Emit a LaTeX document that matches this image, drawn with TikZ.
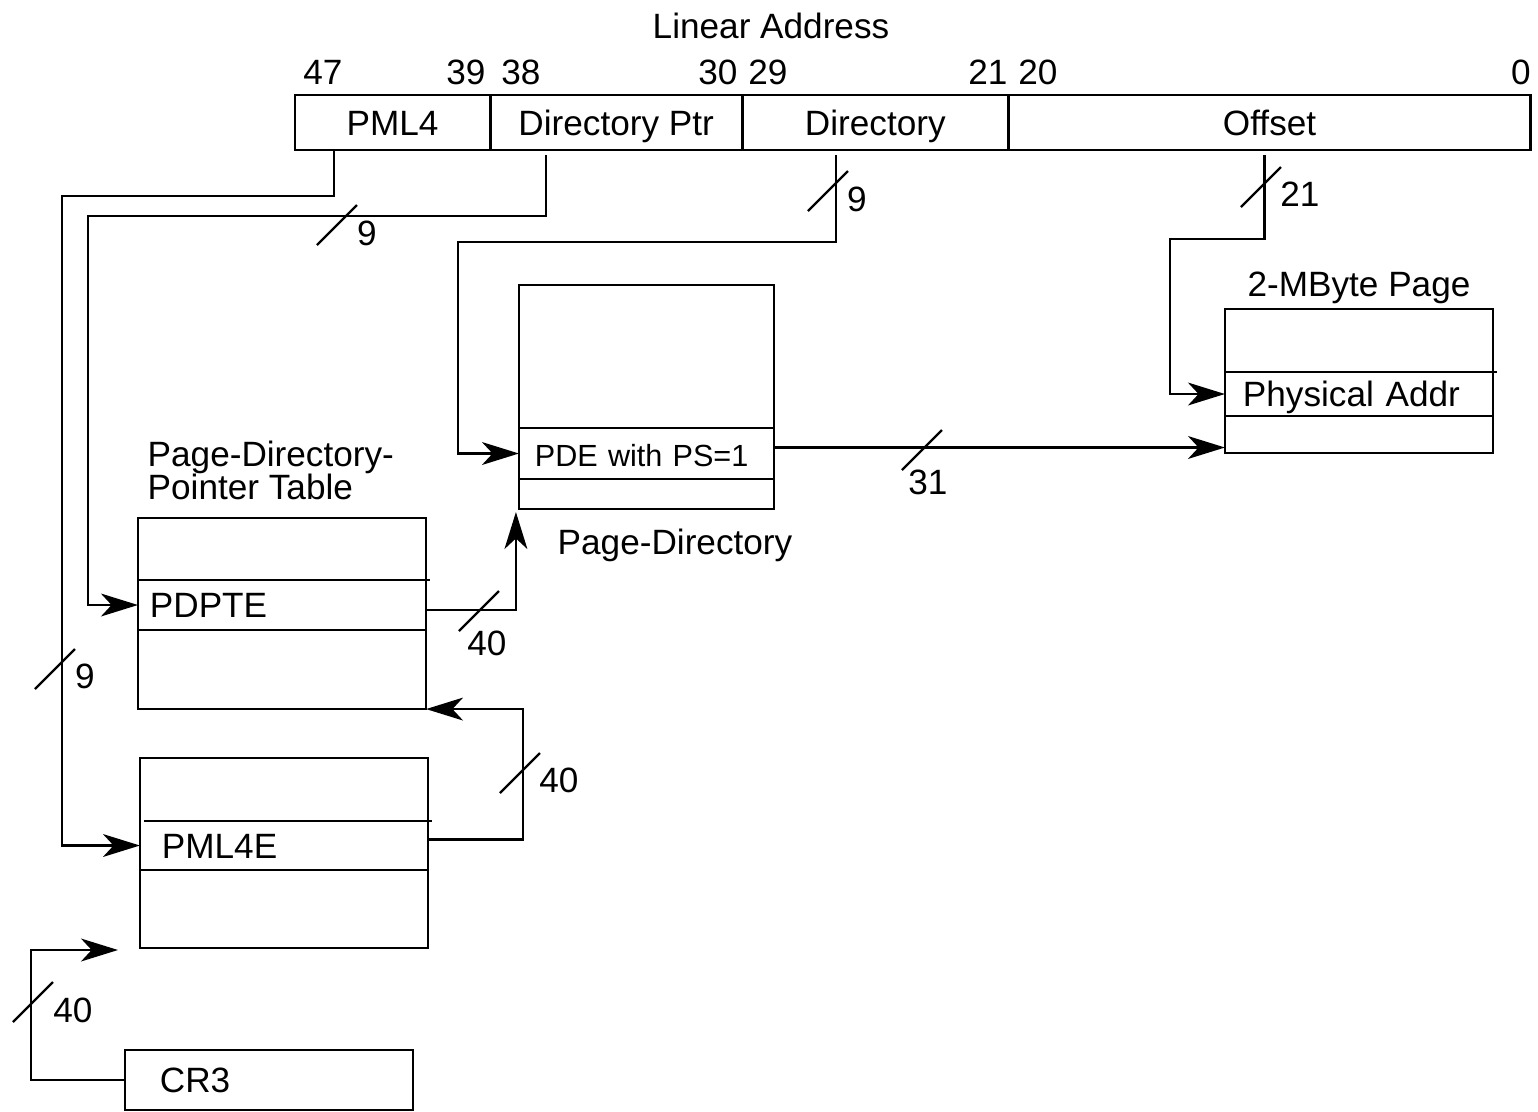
\documentclass[tikz,border=0pt]{standalone}
\usepackage{fontspec}
\setmainfont{Liberation Sans}
\usetikzlibrary{arrows.meta, positioning}
\tikzset{
  field/.style = {rectangle, draw, line width=0.8pt, minimum height=0.55cm,
                  inner sep=0pt, outer sep=0pt, text height=0.716em, text depth=0pt},
  table/.style = {rectangle, draw, line width=0.8pt, inner sep=0pt, outer sep=0pt},
  entry/.style = {rectangle, inner ysep=0pt, outer sep=0pt, align=left,
                  text height=0.716em, text depth=0pt},
  tag/.style   = {inner sep=0pt, text height=0.716em, text depth=0pt},
  rule/.style  = {line width=0.6pt},
  wire/.style  = {->, >={Stealth[length=10.5pt, width=6.5pt, inset=3pt]}, line width=0.65pt},
  slash/.style = {line width=0.65pt}
}

\begin{document}
\begin{tikzpicture}[x=0.01cm, y=-0.01cm, font=\fontsize{10pt}{12pt}\selectfont]
  \useasboundingbox (0,0) rectangle (1538,1111);

  % linear address
  \node (title) [tag] at (771,26) {Linear Address};
  \node (pml4f)   [field, minimum width=1.95cm, anchor=west] at (295,122.5) {PML4};
  \node (dirptrf) [field, minimum width=2.52cm, right=0pt of pml4f]   {Directory Ptr};
  \node (dirf)    [field, minimum width=2.66cm, right=0pt of dirptrf] {Directory};
  \node (offf)    [field, minimum width=5.22cm, right=0pt of dirf]    {Offset};

  % bit numbers
  \node (b47) [tag] at (323,72)  {47};
  \node (b39) [tag] at (466,72)  {39};
  \node (b38) [tag] at (521,72)  {38};
  \node (b30) [tag] at (718,72)  {30};
  \node (b29) [tag] at (768,72)  {29};
  \node (b21) [tag] at (988,72)  {21};
  \node (b20) [tag] at (1038,72) {20};
  \node (b0)  [tag] at (1521,72) {0};

  % page directory
  \node (pd)  [table, minimum width=2.55cm, minimum height=2.24cm] at (646.5,397) {};
  \node (pde) [entry, text width=2.23cm, inner xsep=0.16cm, minimum height=0.51cm,
               font=\fontsize{8.7pt}{10pt}\selectfont] at (646.5,453.5) {PDE with PS=1};
  \node (pdname) [tag] at (675,542) {Page-Directory};

  % 2-MByte page
  \node (pg)   [table, minimum width=2.68cm, minimum height=1.44cm] at (1359,381) {};
  \node (phys) [entry, text width=2.32cm, inner xsep=0.18cm, minimum height=0.44cm]
               at (1359,394) {Physical Addr};
  \node (pgname) [tag, above=0.12cm of pg] {2-MByte Page};

  % page-directory-pointer table
  \node (pdpt)  [table, minimum width=2.88cm, minimum height=1.91cm] at (282,613.5) {};
  \node (pdpte) [entry, text width=2.64cm, inner xsep=0.12cm, minimum height=0.5cm]
                at (282,605) {PDPTE};
  \node (pdptname) [align=left, inner sep=0pt, anchor=north west,
                    font=\fontsize{10pt}{9.6pt}\selectfont] at (147,440)
                    {Page-Directory-\\Pointer Table};

  % PML4 table and CR3
  \node (pml4t) [table, minimum width=2.88cm, minimum height=1.90cm] at (284,853) {};
  \node (pml4e) [entry, text width=2.44cm, inner xsep=0.22cm, minimum height=0.49cm]
                at (284,845.5) {PML4E};
  \node (cr3) [table, minimum width=2.88cm, minimum height=0.6cm, text width=2.18cm,
               inner xsep=0.35cm, align=left, text height=0.716em, text depth=0pt]
              at (269,1080) {CR3};

  % entry rows
  \draw[rule] (pde.north west) -- (pde.north east);
  \draw[rule] (pde.south west) -- (pde.south east);
  \draw[rule] (phys.north west) -- ([xshift=0.04cm]phys.north east);
  \draw[rule] (phys.south west) -- (phys.south east);
  \draw[rule] (pdpte.north west) -- ([xshift=0.04cm]pdpte.north east);
  \draw[rule] (pdpte.south west) -- (pdpte.south east);
  \draw[rule] ([xshift=0.04cm]pml4e.north west) -- ([xshift=0.04cm]pml4e.north east);
  \draw[rule] (pml4e.south west) -- (pml4e.south east);

  % index and pointer paths
  \draw[wire] ([xshift=0.39cm]pml4f.south west) |- (62,196) |- (pml4e.west);
  \draw[wire] ([xshift=0.56cm, yshift=-0.05cm]dirptrf.south west) |- (88,216) |- (pdpte.west);
  \draw[wire] ([xshift=0.94cm, yshift=-0.05cm]dirf.south west) |- (458,242) |- (pde.west);
  \draw[wire] ([xshift=2.56cm, yshift=-0.05cm]offf.south west) |- (1170,239) |- (phys.west);
  \draw[wire] ([yshift=0.06cm]pde.east) -- ([yshift=0.06cm]pde.east -| pg.west);
  \draw[wire] ([yshift=-0.05cm]pdpte.east) -| ([xshift=-0.03cm, yshift=-0.03cm]pd.south west);
  \draw[wire] ([yshift=0.06cm]pml4e.east) -- ++(95,0) |- (pdpt.south east);
  \coordinate (pml4in) at (118,950);
  \draw[wire] (cr3.west) -- ++(-94,0) |- (pml4in);

  % bus widths
  \draw[slash] (55,669) ++(-20,20) -- ++(40,-40);
  \node (w1) [tag] at (85,676) {9};
  \draw[slash] (337,225) ++(-20,20) -- ++(40,-40);
  \node (w2) [tag] at (367,233) {9};
  \draw[slash] (828,191) ++(-20,20) -- ++(40,-40);
  \node (w3) [tag] at (857,199) {9};
  \draw[slash] (1261,187) ++(-20,20) -- ++(40,-40);
  \node (w4) [tag] at (1300,194) {21};
  \draw[slash] (922,450) ++(-20,20) -- ++(40,-40);
  \node (w5) [tag] at (928,482) {31};
  \draw[slash] (479,611) ++(-20,20) -- ++(40,-40);
  \node (w6) [tag] at (487,643) {40};
  \draw[slash] (520,773) ++(-20,20) -- ++(40,-40);
  \node (w7) [tag] at (559,780) {40};
  \draw[slash] (33,1002) ++(-20,20) -- ++(40,-40);
  \node (w8) [tag] at (73,1010) {40};
\end{tikzpicture}
\end{document}
